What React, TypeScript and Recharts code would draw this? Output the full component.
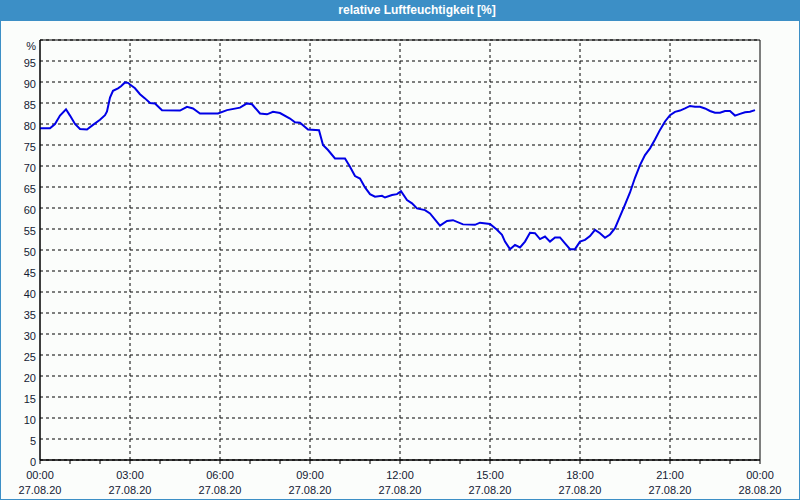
import React from "react";
import {
  LineChart,
  Line,
  XAxis,
  YAxis,
  CartesianGrid,
  ReferenceLine,
  ReferenceArea,
} from "recharts";

// minutes since 27.08.20 00:00
const minutes = [
  0, 20, 30, 40, 52, 60, 70, 80, 94, 106, 120, 130, 134, 140, 146, 156, 162, 170, 176, 180,
  190, 200, 210, 220, 230, 244, 280, 294, 306, 320, 356, 374, 400, 414, 424, 440, 454, 466, 480, 500,
  510, 520, 536, 558, 566, 576, 590, 610, 620, 630, 640, 650, 660, 670, 684, 690, 704, 714, 722, 734,
  744, 754, 770, 780, 800, 814, 826, 846, 870, 880, 900, 914, 924, 930, 940, 950, 960, 970, 980, 990,
  1000, 1010, 1020, 1030, 1040, 1050, 1060, 1070, 1080, 1090, 1100, 1110, 1120, 1130, 1140, 1150, 1160, 1170, 1180, 1190,
  1200, 1210, 1220, 1230, 1240, 1250, 1260, 1270, 1280, 1290, 1300, 1310, 1320, 1330, 1340, 1350, 1360, 1370, 1380, 1390,
  1400, 1410, 1420, 1430,
];

// relative humidity in %
const humidity = [
  79, 79, 80, 82, 83.5, 82, 80, 78.8, 78.7, 79.8, 81, 82.1, 83, 86.3, 87.9, 88.5, 89, 89.9, 89.8, 89.4,
  88.5, 87.1, 86.1, 85, 84.9, 83.3, 83.2, 84.1, 83.7, 82.5, 82.5, 83.3, 83.9, 84.9, 84.7, 82.5, 82.3, 82.9, 82.6, 81.3,
  80.4, 80.3, 78.7, 78.5, 75, 73.8, 71.8, 71.8, 69.8, 67.6, 67, 64.9, 63.3, 62.7, 62.9, 62.5, 63.1, 63.3, 64, 61.9,
  61.1, 59.9, 59.5, 58.7, 55.8, 56.9, 57.1, 56.1, 56, 56.5, 56.2, 54.8, 53.6, 52, 50.2, 51.2, 50.6, 52, 54.1, 54,
  52.6, 53.2, 52, 53, 53, 51.6, 50.2, 50.2, 52, 52.4, 53.3, 54.8, 54, 52.9, 53.7, 55.2, 58, 60.8, 63.7, 67.2,
  70.2, 72.6, 74.2, 76.3, 78.6, 80.6, 82.1, 82.9, 83.2, 83.7, 84.3, 84.1, 84.1, 83.7, 83.1, 82.7, 82.7, 83.1, 83.1, 82,
  82.4, 82.8, 82.9, 83.3,
];

const xTicks = [0, 60, 120, 180, 240, 300, 360, 420, 480, 540, 600, 660, 720, 780, 840, 900, 960, 1020, 1080, 1140, 1200, 1260, 1320, 1380, 1440];
const xLabelTicks = [0, 180, 360, 540, 720, 900, 1080, 1260, 1440];
const xTimeLabels = ["00:00", "03:00", "06:00", "09:00", "12:00", "15:00", "18:00", "21:00", "00:00"];
const xDateLabels = ["27.08.20", "27.08.20", "27.08.20", "27.08.20", "27.08.20", "27.08.20", "27.08.20", "27.08.20", "28.08.20"];
const yTicks = [0, 5, 10, 15, 20, 25, 30, 35, 40, 45, 50, 55, 60, 65, 70, 75, 80, 85, 90, 95, 100];
const verticalGrid = [180, 360, 540, 720, 900, 1080, 1260];

const data = minutes.map((m, i) => ({ t: m, rh: humidity[i] }));

const textColor = "#141a33";
const font = "'Liberation Sans', Arial, sans-serif";

const XTick = (props: any) => {
  const { x, y, payload } = props;
  const idx = xLabelTicks.indexOf(payload.value);
  if (idx < 0) return null;
  return (
    <g>
      <text x={x} y={y} dy={13} textAnchor="middle" fontSize={11} fontFamily={font} fill={textColor}>
        {xTimeLabels[idx]}
      </text>
      <text x={x} y={y} dy={28} textAnchor="middle" fontSize={11} fontFamily={font} fill={textColor}>
        {xDateLabels[idx]}
      </text>
    </g>
  );
};

const YTick = (props: any) => {
  const { x, y, payload } = props;
  const isTop = payload.value === 100;
  return (
    <text
      x={x}
      y={y}
      dy={isTop ? 10 : 6}
      textAnchor="end"
      fontSize={11}
      fontFamily={font}
      fill={textColor}
    >
      {isTop ? "%" : payload.value}
    </text>
  );
};

export default function App() {
  return (
    <div style={{ position: "relative", width: 800, height: 500, background: "#fbfdfb", overflow: "hidden" }}>
      <style>{"body{margin:0}"}</style>
      <div
        style={{
          position: "absolute",
          left: 0,
          top: 0,
          width: 800,
          height: 21,
          background: "#3c8fc6",
          color: "#fff",
          fontFamily: font,
          fontWeight: "bold",
          fontSize: 12,
          lineHeight: "21px",
          textAlign: "center",
          paddingLeft: 34,
          boxSizing: "border-box",
        }}
      >
        relative Luftfeuchtigkeit [%]
      </div>
      <div style={{ position: "absolute", left: 0, top: 21 }}>
        <LineChart width={800} height={479} data={data} margin={{ top: 19, right: 40, left: 0, bottom: 0 }}>
          <CartesianGrid vertical={false} stroke="#000" strokeDasharray="3 3" />
          {verticalGrid.map((v) => (
            <ReferenceLine key={v} x={v} stroke="#000" strokeDasharray="3 3" />
          ))}
          <ReferenceArea x1={0} x2={1440} y1={0} y2={100} fill="none" stroke="#000" strokeWidth={1} />
          <XAxis
            type="number"
            dataKey="t"
            domain={[0, 1440]}
            ticks={xTicks}
            interval={0}
            height={40}
            tickSize={4}
            tickLine={{ stroke: "#000" }}
            axisLine={{ stroke: "#000" }}
            tick={<XTick />}
          />
          <YAxis
            type="number"
            domain={[0, 100]}
            ticks={yTicks}
            interval={0}
            width={40}
            tickLine={false}
            tickSize={0}
            tickMargin={4}
            axisLine={{ stroke: "#000" }}
            tick={<YTick />}
          />
          <Line
            type="linear"
            dataKey="rh"
            stroke="#0000e6"
            strokeWidth={2}
            dot={false}
            isAnimationActive={false}
          />
        </LineChart>
      </div>
      <div
        style={{
          position: "absolute",
          left: 0,
          top: 0,
          width: 800,
          height: 500,
          border: "1px solid #3c8fc6",
          boxSizing: "border-box",
          pointerEvents: "none",
        }}
      />
    </div>
  );
}
